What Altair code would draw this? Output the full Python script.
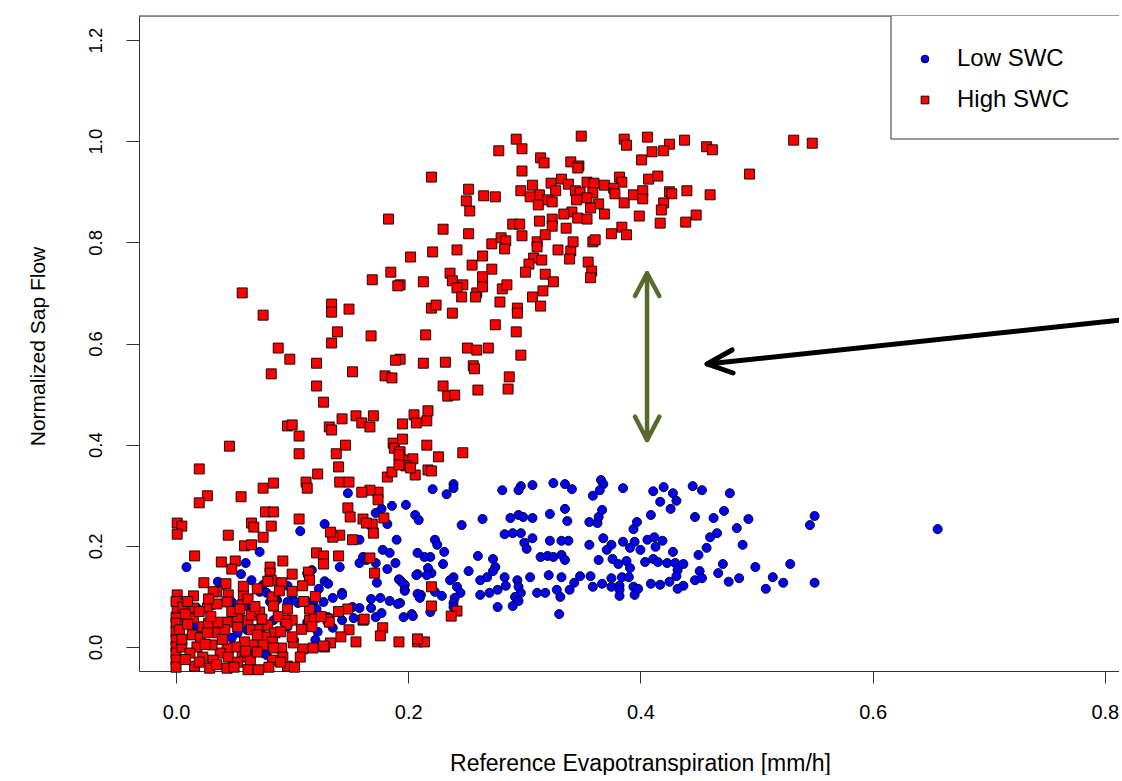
import altair as alt
import pandas as pd

# ---------------- data ----------------
series_names = ["Low SWC", "High SWC"]
series_colors = ["#0000ff", "#ff0000"]

x_ticks = [0.0, 0.2, 0.4, 0.6, 0.8]
y_ticks = [0.0, 0.2, 0.4, 0.6, 0.8, 1.0, 1.2]

high_pts = [
(0.349,1.010),(0.293,1.004),(0.298,0.985),(0.278,0.981),(0.386,1.004),(0.388,0.992),(0.406,1.008),(0.425,0.994),(0.438,1.002),(0.410,0.979),(0.420,0.981),(0.401,0.963),(0.457,0.989),(0.462,0.983),(0.532,1.002),(0.548,0.996),(0.494,0.935),
(0.314,0.967),(0.317,0.957),(0.340,0.959),(0.347,0.951),(0.346,0.947),(0.298,0.941),(0.220,0.929),(0.252,0.905),(0.265,0.892),(0.275,0.890),(0.250,0.882),(0.253,0.862),
(0.407,0.925),(0.415,0.931),(0.382,0.929),(0.384,0.919),(0.307,0.913),(0.323,0.917),(0.332,0.925),(0.338,0.915),(0.297,0.902),(0.313,0.894),(0.327,0.902),(0.320,0.884),(0.324,0.880),(0.305,0.890),(0.312,0.874),
(0.344,0.902),(0.348,0.898),(0.354,0.919),(0.360,0.917),(0.359,0.898),(0.369,0.913),(0.377,0.907),(0.378,0.896),(0.386,0.878),(0.394,0.894),(0.402,0.902),(0.402,0.886),
(0.345,0.884),(0.354,0.888),(0.364,0.876),(0.357,0.868),(0.369,0.856),(0.341,0.860),(0.334,0.856),(0.346,0.848),(0.354,0.846),
(0.425,0.900),(0.427,0.896),(0.440,0.902),(0.460,0.894),(0.420,0.878),(0.418,0.864),(0.448,0.854),(0.439,0.840),(0.399,0.852),(0.417,0.838),(0.384,0.830),(0.388,0.815),(0.375,0.817),
(0.313,0.842),(0.324,0.846),(0.324,0.832),(0.336,0.828),(0.290,0.836),(0.296,0.836),(0.298,0.813),(0.252,0.817),(0.230,0.826),(0.242,0.785),
(0.272,0.797),(0.280,0.809),(0.284,0.803),(0.283,0.787),(0.311,0.801),(0.318,0.815),(0.311,0.791),
(0.329,0.785),(0.340,0.783),(0.342,0.801),(0.339,0.767),(0.359,0.801),(0.361,0.805),(0.355,0.761),(0.358,0.743),(0.357,0.730),
(0.264,0.773),(0.255,0.755),(0.272,0.747),(0.264,0.732),(0.308,0.769),(0.315,0.765),(0.304,0.757),(0.301,0.741),(0.318,0.737),(0.325,0.722),
(0.236,0.739),(0.238,0.724),(0.247,0.716),(0.242,0.710),(0.259,0.700),(0.264,0.712),(0.281,0.708),(0.285,0.716),(0.316,0.704),(0.307,0.692),(0.246,0.692),
(0.193,0.716),(0.213,0.722),(0.202,0.771),(0.221,0.781),(0.220,0.670),(0.224,0.676),(0.215,0.617),(0.193,0.569),(0.213,0.561),
(0.238,0.660),(0.258,0.692),(0.279,0.682),(0.294,0.670),(0.294,0.660),(0.314,0.674),(0.275,0.637),(0.293,0.623),(0.251,0.591),(0.259,0.587),(0.269,0.591),(0.297,0.577),(0.232,0.563),(0.256,0.556),(0.257,0.550),(0.287,0.534),(0.230,0.516),(0.234,0.496),(0.240,0.498),(0.260,0.508),(0.286,0.510),
(0.183,0.846),(0.185,0.741),(0.169,0.726),(0.191,0.714),(0.057,0.700),(0.075,0.656),(0.134,0.678),(0.134,0.662),(0.149,0.668),(0.139,0.623),(0.134,0.601),(0.168,0.615),(0.088,0.591),(0.098,0.569),(0.121,0.561),(0.082,0.540),(0.121,0.516),(0.152,0.544),(0.180,0.536),(0.186,0.532),(0.189,0.567),(0.127,0.484),
(0.155,0.457),(0.170,0.457),(0.160,0.443),(0.167,0.435),(0.143,0.451),(0.132,0.435),(0.134,0.429),(0.096,0.437),(0.100,0.439),(0.106,0.417),(0.046,0.397),(0.106,0.382),(0.138,0.382),(0.146,0.399),(0.140,0.356),(0.020,0.352),(0.122,0.342),(0.112,0.326),(0.113,0.314),(0.084,0.324),(0.075,0.314),(0.141,0.326),(0.149,0.326),(0.027,0.299),(0.020,0.285),(0.056,0.297),(0.077,0.267),(0.084,0.267),(0.082,0.239),(0.106,0.253),(0.001,0.245),(0.005,0.239),(0.001,0.223),(0.045,0.221),(0.065,0.245),(0.067,0.237),(0.075,0.217),(0.059,0.200),(0.065,0.202),(0.016,0.180),(0.039,0.168),(0.051,0.170),(0.048,0.154),(0.092,0.170),(0.121,0.186),(0.127,0.180),(0.127,0.164),(0.140,0.180),(0.081,0.158),(0.081,0.146),(0.082,0.132),(0.100,0.144),(0.114,0.148),(0.115,0.132),(0.109,0.121),(0.091,0.127),(0.024,0.127),(0.043,0.125),(0.035,0.109),(0.001,0.103),(0.015,0.101),
(0.148,0.275),(0.150,0.257),(0.161,0.253),(0.169,0.243),(0.179,0.255),(0.170,0.225),(0.152,0.212),(0.141,0.221),(0.135,0.217),(0.167,0.176),(0.171,0.146),(0.161,0.053),(0.149,0.034),(0.178,0.038),(0.176,0.022),(0.192,0.010),(0.208,0.010),(0.214,0.010),
(0.187,0.403),(0.188,0.393),(0.193,0.386),(0.195,0.370),(0.204,0.372),(0.206,0.340),(0.198,0.358),(0.182,0.336),(0.186,0.346),(0.195,0.411),(0.205,0.459),(0.207,0.443),(0.217,0.467),(0.216,0.447),(0.195,0.441),(0.216,0.399),(0.217,0.350),(0.174,0.306),(0.167,0.310),(0.160,0.306),(0.174,0.291),
(0.226,0.376),(0.202,0.354),(0.220,0.348),(0.247,0.384),(0.192,0.380),(0.192,0.360),(0.220,0.119),(0.220,0.081),(0.242,0.071),(0.237,0.061),(0.208,0.016),
(0.115,0.053),(0.119,0.059),(0.100,0.053),(0.133,0.008),(0.128,0.000),(0.084,0.095),(0.096,0.075),(0.115,0.075),(0.079,0.130),
(0.045,0.103),(0.058,0.103),(0.057,0.083),(0.083,0.099),(0.089,0.111),(0.084,0.081),(0.094,0.053),(0.133,0.227),(0.164,0.245),(0.148,0.075),(0.162,0.055),(0.131,0.055),(0.132,0.049),(0.117,0.040),(0.127,0.002),(0.109,-0.004),(0.107,-0.020),
(0.000,0.059),(0.000,0.047),(0.000,0.030),(0.000,0.014),(0.000,0.000),(0.000,-0.012),(0.000,-0.026),(0.000,-0.040),(0.001,0.077),(0.000,0.090),
(0.015,0.057),(0.023,0.040),(0.014,0.024),(0.021,0.018),(0.028,0.047),(0.027,0.028),(0.036,0.028),(0.044,0.049),(0.042,0.034),(0.053,0.040),(0.062,0.053),(0.065,0.034),(0.072,0.034),(0.079,0.043),(0.085,0.028),(0.077,0.020),(0.070,0.024),(0.083,0.010),(0.091,-0.002),(0.084,-0.002),(0.075,0.004),(0.066,0.004),(0.059,0.010),(0.051,0.000),(0.057,-0.020),(0.044,-0.002),(0.038,-0.012),(0.031,0.004),(0.018,0.000),(0.005,0.000),(0.012,-0.012),(0.023,-0.020),(0.032,-0.026),(0.045,-0.020),(0.053,-0.030),(0.064,-0.026),(0.016,-0.038),(0.029,-0.042),(0.044,-0.042),(0.071,-0.045),(0.096,-0.038),(0.102,-0.040),(0.083,-0.026),(0.092,-0.020),(0.101,0.008),(0.118,-0.002),
(0.032,0.109),(0.044,0.089),(0.053,0.059),(0.065,0.063),(0.072,0.069),(0.036,0.049),(0.006,0.079),(0.015,0.077),(0.027,0.077),(0.003,0.034),
(0.008,0.065),(0.010,0.090),(0.020,0.070),(0.030,0.060),(0.035,0.085),(0.048,0.070),(0.055,0.075),(0.062,0.095),(0.068,0.080),(0.074,0.055),(0.088,0.060),(0.095,0.045),(0.090,0.030),(0.100,0.020),(0.108,0.035),(0.060,-0.008),(0.040,0.015),(0.025,0.005),(0.010,0.045),(0.005,0.015),(0.008,-0.025),(0.020,-0.030),(0.035,-0.035),(0.050,-0.040),(0.062,-0.045),(0.080,-0.040),(0.090,-0.030),(0.070,-0.010),(0.110,0.090),(0.120,0.100),(0.058,0.120),(0.070,0.115),(0.028,0.095),(0.100,0.110),(0.140,0.070),(0.125,0.060),(0.142,0.020),(0.155,0.010),
]

low_pts = [
(0.221,0.312),(0.239,0.322),(0.239,0.314),(0.233,0.302),(0.281,0.310),(0.297,0.318),(0.295,0.310),(0.307,0.320),(0.325,0.324),(0.335,0.322),(0.341,0.312),(0.366,0.330),(0.368,0.322),(0.365,0.310),(0.359,0.299),(0.385,0.314),(0.411,0.308),(0.420,0.316),(0.428,0.304),(0.417,0.287),(0.431,0.289),(0.426,0.273),(0.445,0.318),(0.453,0.310),(0.477,0.304),
(0.198,0.281),(0.206,0.261),(0.209,0.251),(0.246,0.241),(0.264,0.253),(0.288,0.255),(0.295,0.261),(0.299,0.257),(0.307,0.255),(0.322,0.263),(0.335,0.273),(0.337,0.249),(0.356,0.247),(0.363,0.245),(0.364,0.257),(0.367,0.271),(0.397,0.247),(0.394,0.233),(0.409,0.261),(0.447,0.257),(0.463,0.255),(0.472,0.269),(0.493,0.253),(0.483,0.235),(0.550,0.259),(0.546,0.241),
(0.283,0.223),(0.290,0.225),(0.297,0.225),(0.300,0.206),(0.302,0.194),(0.307,0.215),(0.322,0.210),(0.332,0.210),(0.338,0.210),(0.356,0.202),(0.368,0.215),(0.375,0.202),(0.371,0.192),(0.385,0.208),(0.395,0.208),(0.406,0.212),(0.412,0.217),(0.419,0.210),(0.413,0.198),(0.391,0.196),(0.400,0.192),(0.428,0.188),(0.450,0.182),(0.457,0.196),(0.460,0.217),(0.466,0.225),(0.488,0.202),
(0.208,0.186),(0.219,0.178),(0.223,0.212),(0.225,0.202),(0.231,0.188),(0.260,0.180),(0.273,0.174),(0.275,0.158),(0.273,0.150),(0.314,0.178),(0.320,0.180),(0.325,0.178),(0.332,0.182),(0.335,0.172),
(0.364,0.172),(0.376,0.174),(0.381,0.164),(0.388,0.170),(0.391,0.156),(0.404,0.168),(0.411,0.174),(0.415,0.168),(0.423,0.166),(0.430,0.166),(0.437,0.164),(0.432,0.152),(0.431,0.140),(0.451,0.150),(0.467,0.146),(0.471,0.164),(0.499,0.158),(0.529,0.164),
(0.208,0.144),(0.220,0.146),(0.217,0.156),(0.230,0.164),(0.252,0.150),(0.239,0.138),(0.242,0.119),(0.236,0.132),(0.245,0.107),
(0.262,0.132),(0.268,0.138),(0.262,0.103),(0.270,0.107),(0.277,0.113),(0.283,0.138),(0.284,0.121),(0.294,0.132),(0.295,0.119),(0.297,0.107),(0.292,0.099),(0.295,0.091),(0.290,0.081),(0.277,0.079),(0.305,0.138),(0.311,0.107),(0.318,0.107),(0.321,0.142),
(0.328,0.113),(0.332,0.138),(0.331,0.099),(0.339,0.113),(0.343,0.127),(0.348,0.140),(0.357,0.140),(0.359,0.119),(0.367,0.125),(0.375,0.136),(0.375,0.119),(0.382,0.121),(0.382,0.113),(0.384,0.138),(0.394,0.119),(0.395,0.103),(0.398,0.115),(0.409,0.125),(0.417,0.123),(0.425,0.129),(0.437,0.121),(0.447,0.132),(0.453,0.136),(0.476,0.129),(0.485,0.136),(0.508,0.115),(0.514,0.138),(0.523,0.127),(0.550,0.127),
(0.330,0.065),(0.196,0.059),(0.203,0.065),(0.219,0.069),(0.193,0.132),(0.197,0.113),(0.193,0.087),(0.656,0.233),
(0.432,0.115),(0.390,0.138),(0.382,0.101),(0.240,0.097),(0.239,0.087),(0.229,0.101),(0.223,0.109),(0.211,0.103),(0.197,0.123),(0.239,0.079),(0.216,0.142),
(0.128,0.243),(0.107,0.229),(0.072,0.188),(0.009,0.158),(0.060,0.166),(0.056,0.144),(0.065,0.132),(0.036,0.129),(0.040,0.123),(0.075,0.123),(0.091,0.123),(0.096,0.121),(0.113,0.146),(0.117,0.152),(0.128,0.130),(0.131,0.125),(0.123,0.115),(0.143,0.107),(0.141,0.158),(0.158,0.166),(0.161,0.178),(0.164,0.172),(0.172,0.166),(0.178,0.192),(0.184,0.186),(0.189,0.166),(0.190,0.212),(0.182,0.154),(0.173,0.127),(0.192,0.134),(0.195,0.127),(0.197,0.111),(0.208,0.105),(0.210,0.097),(0.176,0.097),(0.184,0.091),(0.191,0.085),(0.168,0.095),(0.168,0.077),(0.158,0.077),(0.152,0.079),(0.153,0.057),(0.143,0.053),(0.204,0.061),(0.172,0.059),(0.177,0.067),
(0.143,0.103),(0.135,0.097),(0.127,0.089),(0.118,0.087),(0.113,0.089),(0.105,0.087),(0.101,0.093),(0.096,0.089),(0.087,0.093),(0.081,0.089),(0.072,0.109),(0.078,0.107),(0.062,0.083),(0.048,0.089),(0.032,0.083),(0.018,0.077),(0.001,0.079),(0.000,0.093),(0.121,0.075),(0.131,0.059),(0.135,0.038),(0.122,0.030),(0.120,0.014),(0.113,0.049),(0.096,0.040),(0.084,0.053),(0.061,0.034),(0.053,0.028),(0.048,0.018),(0.038,0.043),(0.018,0.040),(0.021,0.034),(0.010,0.059),(0.009,0.047),(0.075,-0.012),(0.064,-0.006),(0.078,-0.016),
(0.148,0.304),(0.186,0.279),(0.177,0.273),(0.172,0.265),(0.182,0.243),(0.158,0.212),(0.214,0.178),(0.207,0.142),
]

# annotation arrows (data units): shaft and arrow heads
green_arrow_x = [0.4057, 0.4057, None, 0.3953, 0.4057, 0.4163, None, 0.3953, 0.4057, 0.4163]
green_arrow_y = [0.7388, 0.4093, None, 0.6940, 0.7388, 0.6940, None, 0.4553, 0.4093, 0.4553]
black_arrow_x = [0.8122, 0.4574, None, 0.4789, 0.4574, 0.4798]
black_arrow_y = [0.6459, 0.5595, None, 0.5872, 0.5595, 0.5417]

# ---------------- layout ----------------
W, H = 980, 655
PAD = {"left": 139, "top": 16, "right": 0, "bottom": 104}
X_DOM = [-0.0319, -0.0319 + W / 1161.0]
Y_DOM = [-0.0475, 1.2475]
FONT = "Liberation Sans"
FRAME = "#333333"


def pts_df(pts, name):
    return pd.DataFrame({"x": [p[0] for p in pts], "y": [p[1] for p in pts], "series": name})


def seg_df(xs, ys):
    rows, seg, order = [], 0, 0
    for xv, yv in zip(xs, ys):
        if xv is None:
            seg += 1
            continue
        rows.append({"x": xv, "y": yv, "seg": seg, "o": order})
        order += 1
    return pd.DataFrame(rows)


xs = alt.Scale(domain=X_DOM, nice=False, zero=False)
ys = alt.Scale(domain=Y_DOM, nice=False, zero=False)

x_enc = alt.X("x:Q", scale=xs, axis=alt.Axis(
    values=x_ticks, format=".1f", grid=False, tickSize=12, tickColor=FRAME, domainColor=FRAME,
    labelFontSize=20, labelFont=FONT, labelColor="black", labelPadding=19, labelFlush=False,
    title="Reference Evapotranspiration [mm/h]", titleFont=FONT, titleFontSize=23,
    titleFontWeight="normal", titleColor="black", titleX=501, titleY=92,
    titleBaseline="middle", titleAlign="center"))
y_enc = alt.Y("y:Q", scale=ys, axis=alt.Axis(
    values=y_ticks, format=".1f", grid=False, tickSize=13, tickColor=FRAME, domainColor=FRAME,
    labelFontSize=18.5, labelFont=FONT, labelColor="black", labelAngle=270,
    labelAlign="center", labelBaseline="bottom", labelPadding=21, labelFlush=False,
    title="Normalized Sap Flow", titleFont=FONT, titleFontSize=21, titleFontWeight="normal",
    titleColor="black", titleAngle=270, titleX=-101, titleY=330, titleBaseline="middle",
    titleAlign="center"))

low = alt.Chart(pts_df(low_pts, series_names[0])).mark_point(
    shape="circle", filled=True, fill=series_colors[0], stroke="black", strokeWidth=0.9,
    size=82, opacity=1).encode(x=x_enc, y=y_enc)
high = alt.Chart(pts_df(high_pts, series_names[1])).mark_point(
    shape="square", filled=True, fill=series_colors[1], stroke="black", strokeWidth=0.9,
    size=100, opacity=1).encode(x="x:Q", y="y:Q")

green = alt.Chart(seg_df(green_arrow_x, green_arrow_y)).mark_line(
    color="#566a2c", strokeWidth=4.5, strokeCap="round", strokeJoin="round", clip=True
).encode(x="x:Q", y="y:Q", detail="seg:N", order="o:Q")
black = alt.Chart(seg_df(black_arrow_x, black_arrow_y)).mark_line(
    color="black", strokeWidth=5, strokeCap="round", strokeJoin="round", clip=True
).encode(x="x:Q", y="y:Q", detail="seg:N", order="o:Q")

one = pd.DataFrame({"k": [0]})
top_border = alt.Chart(one).mark_rule(color=FRAME, strokeWidth=1).encode(
    x=alt.value(0), x2=alt.value(W), y=alt.value(0))

# legend box (manual, like R's legend at top right)
LX, LB = 752, 123
leg_bg = alt.Chart(one).mark_rect(fill="white").encode(
    x=alt.value(LX), x2=alt.value(W), y=alt.value(0), y2=alt.value(LB))
leg_left = alt.Chart(one).mark_rule(color=FRAME, strokeWidth=1).encode(
    x=alt.value(LX), y=alt.value(0), y2=alt.value(LB))
leg_bottom = alt.Chart(one).mark_rule(color=FRAME, strokeWidth=1).encode(
    x=alt.value(LX), x2=alt.value(W), y=alt.value(LB))
leg_df = pd.DataFrame({"label": series_names, "color": series_colors,
                       "shape": ["circle", "square"], "yy": [43, 84]})
leg_sym = alt.Chart(leg_df).mark_point(filled=True, stroke="black", strokeWidth=0.9,
                                       opacity=1, size=60).encode(
    x=alt.value(786), y=alt.Y("yy:Q", scale=None),
    fill=alt.Fill("color:N", scale=None),
    shape=alt.Shape("shape:N", scale=None))
leg_txt = alt.Chart(leg_df).mark_text(align="left", baseline="middle", font=FONT,
                                      fontSize=24, color="black").encode(
    x=alt.value(818), y=alt.Y("yy:Q", scale=None), text="label:N")

chart = alt.layer(
    low, high, green, black, top_border, leg_bg, leg_left, leg_bottom, leg_sym, leg_txt
).properties(
    width=W, height=H,
    autosize=alt.AutoSizeParams(type="none"),
    padding=PAD,
).configure_view(stroke=None).configure(background="white")

chart.save("out.html", embed_options={"renderer": "svg", "actions": False})
